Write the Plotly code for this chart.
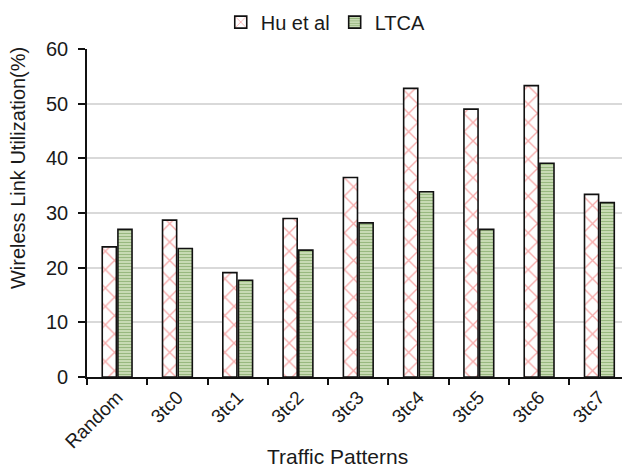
import plotly.graph_objects as go

categories = ["Random", "3tc0", "3tc1", "3tc2", "3tc3", "3tc4", "3tc5", "3tc6", "3tc7"]
hu_et_al = [23.8, 28.7, 19.1, 29.0, 36.5, 52.8, 49.0, 53.3, 33.4]
ltca = [27.0, 23.5, 17.7, 23.2, 28.2, 33.9, 27.0, 39.1, 31.9]
y_ticks = [0, 10, 20, 30, 40, 50, 60]

FONT = "Liberation Sans, Arial, sans-serif"

fig = go.Figure()
fig.add_trace(go.Bar(
    name="Hu et al", x=categories, y=hu_et_al,
    marker=dict(color="white", line=dict(color="#111111", width=1.6),
                pattern=dict(shape="x", fgcolor="#ee5a5a", size=13, solidity=0.2)),
))
fig.add_trace(go.Bar(
    name="LTCA", x=categories, y=ltca,
    marker=dict(color="#d6e6c4", line=dict(color="#111111", width=1.6),
                pattern=dict(shape="-", fgcolor="#5a8a3a", size=3, solidity=0.5)),
))

fig.update_layout(
    width=622, height=469,
    margin=dict(l=87, r=0, t=49, b=92),
    paper_bgcolor="white", plot_bgcolor="white",
    barmode="group", bargap=0.48, bargroupgap=0.1,
    font=dict(family=FONT, color="#1a1a1a", size=20),
    legend=dict(orientation="h", x=0.25, xanchor="left", y=1.082, yanchor="middle",
                font=dict(size=20), itemwidth=30, traceorder="normal",
                bgcolor="rgba(0,0,0,0)", tracegroupgap=0),
    showlegend=True,
    annotations=[
        dict(text="Wireless Link Utilization(%)", textangle=-90, showarrow=False,
             xref="paper", yref="paper", x=-0.129, y=0.637,
             xanchor="center", yanchor="middle", font=dict(size=20)),
        dict(text="Traffic Patterns", showarrow=False,
             xref="paper", yref="paper", x=0.469, y=-0.243,
             xanchor="center", yanchor="middle", font=dict(size=21)),
    ],
)
fig.update_xaxes(
    range=[-0.5, 8.375], showline=True, linecolor="#111111", linewidth=1.6,
    ticks="outside", tickson="boundaries", ticklen=6, tickcolor="#111111", tickwidth=1.6,
    tickangle=-45, tickfont=dict(size=19), showgrid=False,
)
fig.update_yaxes(
    range=[0, 60], tickvals=y_ticks, showline=True, linecolor="#111111", linewidth=1.6,
    ticks="outside", ticklen=7, tickcolor="#111111", tickwidth=1.6, ticklabelstandoff=6,
    tickfont=dict(size=20), showgrid=True, gridcolor="#d9d9d9", gridwidth=1.5,
    zeroline=False,
)

fig.write_html("out.html")
